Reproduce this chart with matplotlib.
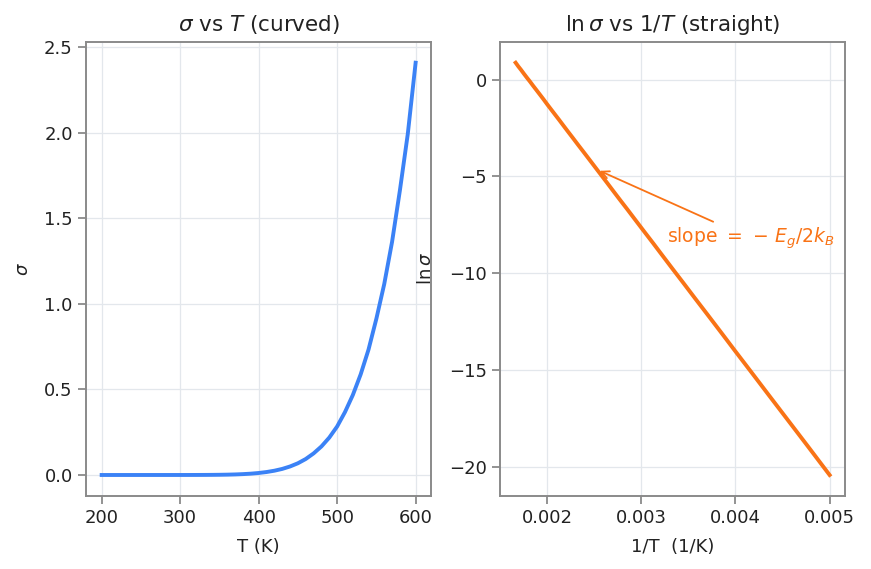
import numpy as np
import matplotlib
matplotlib.use("Agg")
import matplotlib.pyplot as plt

# Temperatures (K) and ln(sigma) values
T_K = [200, 210, 220, 230, 240, 250, 260, 270, 280, 290, 300,
       310, 320, 330, 340, 350, 360, 370, 380, 390, 400,
       410, 420, 430, 440, 450, 460, 470, 480, 490, 500,
       510, 520, 530, 540, 550, 560, 570, 580, 590, 600]
ln_sigma = [-20.43, -18.90, -17.52, -16.26, -15.10, -14.04, -13.05, -12.14, -11.30, -10.51, -9.78,
            -9.09, -8.44, -7.84, -7.27, -6.73, -6.23, -5.75, -5.29, -4.86, -4.45,
            -4.06, -3.69, -3.34, -3.00, -2.68, -2.37, -2.07, -1.79, -1.52, -1.26,
            -1.00, -0.76, -0.53, -0.31, -0.09, 0.11, 0.31, 0.51, 0.69, 0.88]

left_title = r"$\sigma$ vs $T$ (curved)"
right_title = r"$\ln\sigma$ vs $1/T$ (straight)"
slope_label = r"slope $=\,-\,E_g/2k_B$"
arrow_target = (0.002532, -4.65)
text_pos = (0.00327, -8.2)

T = np.array(T_K, dtype=float)
lns = np.array(ln_sigma)
sigma = np.exp(lns)
invT = 1.0 / T

blue = "#3b82f6"
orange = "#f97316"
spine_c = "#8a8a8a"
text_c = "#222222"

plt.rcParams.update({
    "font.family": ["DejaVu Sans"],
    "font.size": 13,
    "text.color": text_c,
    "axes.labelcolor": text_c,
    "xtick.color": spine_c,
    "ytick.color": spine_c,
    "xtick.labelcolor": text_c,
    "ytick.labelcolor": text_c,
})

fig = plt.figure(figsize=(8.71, 5.69), dpi=100)
ax1 = fig.add_axes([0.0987, 0.129, 0.3965, 0.797])
ax2 = fig.add_axes([0.574, 0.129, 0.3965, 0.797])

for ax in (ax1, ax2):
    for s in ax.spines.values():
        s.set_color(spine_c)
        s.set_linewidth(1.4)
    ax.grid(True, color="#e3e7ec", linewidth=0.9)
    ax.set_axisbelow(True)
    ax.tick_params(labelsize=13, length=5.5, width=1.3, pad=4)

ax1.plot(T, sigma, color=blue, lw=2.8)
ax1.set_title(left_title, fontsize=15.5, pad=8)
ax1.set_xlabel("T (K)", fontsize=13, labelpad=8)
ax1.set_ylabel(r"$\sigma$", fontsize=13, labelpad=9)
ax1.set_xticks([200, 300, 400, 500, 600])
ax1.set_yticks([0.0, 0.5, 1.0, 1.5, 2.0, 2.5])

ax2.plot(invT, lns, color=orange, lw=2.8)
ax2.set_title(right_title, fontsize=15.5, pad=8)
ax2.set_xlabel("1/T  (1/K)", fontsize=13, labelpad=8)
ax2.set_ylabel(r"$\ln\sigma$", fontsize=13, labelpad=10)
ax2.set_xticks([0.002, 0.003, 0.004, 0.005])
ax2.set_yticks([0, -5, -10, -15, -20])
ax2.annotate(slope_label, xy=arrow_target, xytext=text_pos,
             color=orange, fontsize=13.5, ha="left", va="center",
             arrowprops=dict(arrowstyle="->", color=orange, lw=1.3))

fig.savefig("out.png", dpi=100)
